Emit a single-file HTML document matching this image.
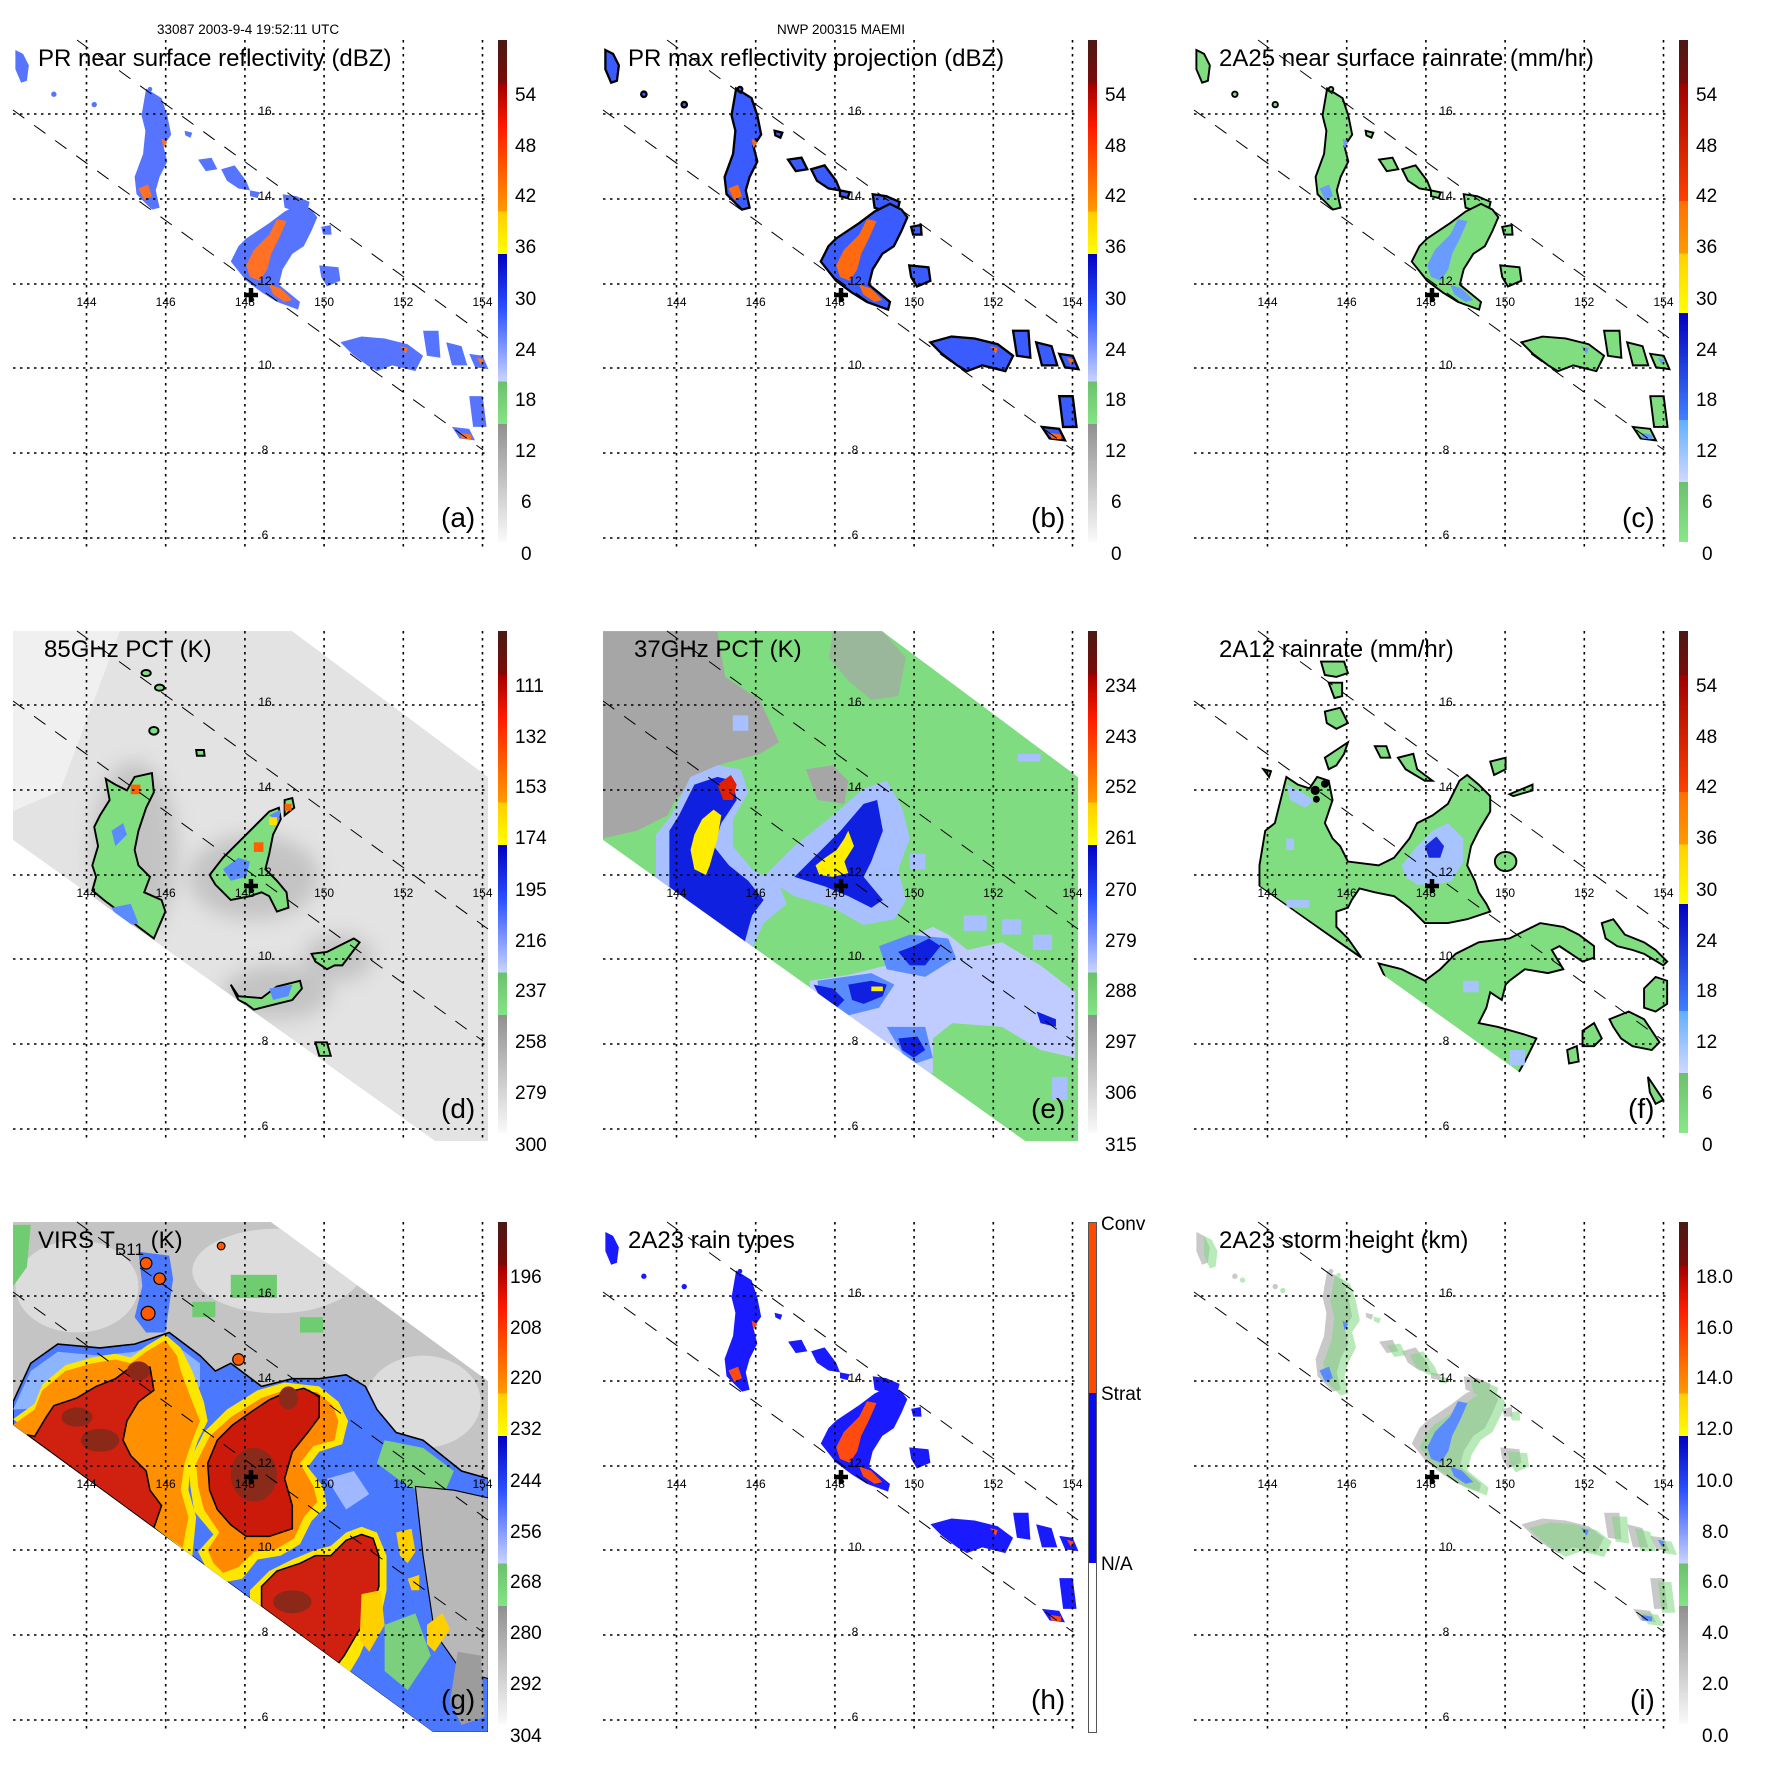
<!DOCTYPE html>
<html><head><meta charset="utf-8"><style>
html,body{margin:0;padding:0;background:#fff}
svg{display:block}
text{font-family:"Liberation Sans",Arial,sans-serif;fill:#000}
.t{font-size:24px}.pl{font-size:28px}.cb{font-size:19px}.tk{font-size:12px}.hd{font-size:13.5px}
</style></head><body>
<svg width="1771" height="1771" viewBox="0 0 1771 1771" xmlns="http://www.w3.org/2000/svg">
<defs>
<linearGradient id="gA" x1="0" y1="0" x2="0" y2="1">
<stop offset="0" stop-color="#4a1a14"/><stop offset=".086" stop-color="#7a0c0a"/>
<stop offset=".086" stop-color="#a00000"/><stop offset=".173" stop-color="#ff1a00"/>
<stop offset=".257" stop-color="#ff5a00"/><stop offset=".342" stop-color="#ff9a00"/>
<stop offset=".342" stop-color="#ffcc00"/><stop offset=".426" stop-color="#ffff00"/>
<stop offset=".426" stop-color="#0000c0"/><stop offset=".534" stop-color="#2a50ff"/>
<stop offset=".68" stop-color="#c8d4ff"/><stop offset=".68" stop-color="#6cc06c"/>
<stop offset=".765" stop-color="#84e484"/><stop offset=".765" stop-color="#909090"/>
<stop offset="1" stop-color="#fafafa"/></linearGradient>
<linearGradient id="gC" x1="0" y1="0" x2="0" y2="1">
<stop offset="0" stop-color="#4a1a14"/><stop offset=".088" stop-color="#7a0c0a"/>
<stop offset=".088" stop-color="#a00000"/><stop offset=".321" stop-color="#ff4000"/>
<stop offset=".321" stop-color="#ff7000"/><stop offset=".425" stop-color="#ff9a00"/>
<stop offset=".425" stop-color="#ffd000"/><stop offset=".544" stop-color="#ffff00"/>
<stop offset=".544" stop-color="#0000c0"/><stop offset=".757" stop-color="#4080ff"/>
<stop offset=".757" stop-color="#60b0ff"/><stop offset=".88" stop-color="#d0d8ff"/>
<stop offset=".88" stop-color="#6cc06c"/><stop offset="1" stop-color="#88e888"/></linearGradient>
<clipPath id="tmi" clipPathUnits="userSpaceOnUse"><polygon points="13,40 292,40 488,186 488,550 435,550 13,249"/></clipPath>
<clipPath id="virs" clipPathUnits="userSpaceOnUse"><polygon points="13,40 271,40 488,199 488,550 433,550 13,243"/></clipPath>
<filter id="bl" x="-50%" y="-50%" width="200%" height="200%"><feGaussianBlur stdDeviation="25"/></filter>
<pattern id="spk" width="9" height="9" patternUnits="userSpaceOnUse">
<rect width="9" height="9" fill="#fff"/><rect x="0" y="0" width="3" height="3" fill="#000"/><rect x="5" y="4" width="3" height="3" fill="#000"/><rect x="2" y="7" width="2" height="2" fill="#000"/></pattern>
<mask id="sm" maskUnits="userSpaceOnUse" x="0" y="0" width="1600" height="1600"><rect width="1600" height="1600" fill="url(#spk)"/></mask>
<g id="grid" fill="none" stroke="#000" stroke-width="1.6" stroke-dasharray="2.5 4.5">
<path d="M86.5 40V550M165.7 40V550M244.9 40V550M324.1 40V550M403.3 40V550M482.5 40V550"/>
<path d="M13 114H488M13 199H488M13 284H488M13 368H488M13 453H488M13 538H488"/>
</g>
<g id="swath" fill="none" stroke="#000" stroke-width="1" stroke-dasharray="14 12">
<path d="M77 40L488 338M13 110L483 450"/></g>
<path id="cross" d="M251 288v14M244 295h14" stroke="#000" stroke-width="4.5" fill="none"/>
<g id="prshape">
<polygon points="380,230 420,255 435,300 445,350 425,380 435,420 415,460 405,495 415,540 395,545 355,505 350,460 372,400 378,340 368,300"/>
<polygon points="515,415 550,410 565,440 535,445"/>
<polygon points="575,440 610,430 640,470 650,495 620,490 590,470"/>
<polygon points="650,495 675,500 670,515 650,510"/>
<polygon points="735,505 770,510 805,525 800,545 770,550 740,540"/>
<polygon points="600,680 620,640 640,620 700,580 740,550 780,530 810,545 825,565 810,600 790,640 760,660 735,700 725,740 780,785 775,805 720,785 680,760 640,730"/>
<polygon points="830,690 880,695 885,730 850,745 835,720"/>
<polygon points="835,590 860,585 862,610 840,610"/>
<polygon points="885,890 940,875 1000,880 1060,895 1100,925 1080,965 1020,950 980,965 955,950 915,920"/>
<polygon points="1100,860 1140,860 1145,930 1110,925"/>
<polygon points="1160,890 1200,900 1215,950 1175,950"/>
<polygon points="1220,920 1255,925 1270,960 1235,955"/>
<polygon points="1220,1030 1255,1030 1265,1110 1230,1110"/>
<polygon points="1175,1110 1220,1115 1235,1145 1195,1140"/>
<polygon points="40,130 60,140 75,170 70,210 55,215 40,180"/>
<polygon points="480,340 500,345 495,358 482,352"/>
<circle cx="140" cy="245" r="7"/><circle cx="245" cy="272" r="7"/><circle cx="390" cy="232" r="6"/>
</g>
<g id="prcore">
<polygon points="640,690 660,650 700,610 720,570 745,575 725,620 705,660 695,700 675,730 650,720"/>
<polygon points="360,490 385,480 395,510 375,520"/>
<polygon points="1195,1125 1225,1130 1225,1142 1200,1140"/>
<polygon points="700,740 730,750 760,780 740,785 710,765"/>
<polygon points="420,360 435,370 425,385"/>
<polygon points="1040,900 1060,905 1055,920"/>
<polygon points="1240,930 1258,935 1250,948"/>
</g>
</defs>
<rect width="1771" height="1771" fill="#fff"/>
<text class="hd" x="248" y="34" text-anchor="middle">33087 2003-9-4 19:52:11 UTC</text>
<text class="hd" x="841" y="34" text-anchor="middle">NWP 200315 MAEMI</text>

<!-- ===== (a) ===== -->
<g transform="translate(0,0)">
<g transform="scale(.38462)" opacity=".85">
<use href="#prshape" fill="#3a5cff"/>
<use href="#prcore" fill="#ff5a00"/>
</g>
<use href="#grid"/><use href="#swath"/><use href="#cross"/>
<text class="t" x="38" y="66">PR near surface reflectivity (dBZ)</text>
<rect x="498" y="40" width="9" height="502" fill="url(#gA)"/>
<text class="cb" x="515" y="101">54</text><text class="cb" x="515" y="152">48</text><text class="cb" x="515" y="202">42</text><text class="cb" x="515" y="253">36</text><text class="cb" x="515" y="305">30</text><text class="cb" x="515" y="356">24</text><text class="cb" x="515" y="406">18</text><text class="cb" x="515" y="457">12</text><text class="cb" x="521" y="508">6</text><text class="cb" x="521" y="560">0</text>
<text class="pl" x="441" y="527">(a)</text>
</g>

<!-- ===== (b) ===== -->
<g transform="translate(590,0)">
<g transform="scale(.38462)">
<use href="#prshape" fill="#3a5cff" stroke="#000" stroke-width="6"/>
<use href="#prcore" fill="#ff6a10"/>
</g>
<use href="#grid"/><use href="#swath"/><use href="#cross"/>
<text class="t" x="38" y="66">PR max reflectivity projection (dBZ)</text>
<rect x="498" y="40" width="9" height="502" fill="url(#gA)"/>
<text class="cb" x="515" y="101">54</text><text class="cb" x="515" y="152">48</text><text class="cb" x="515" y="202">42</text><text class="cb" x="515" y="253">36</text><text class="cb" x="515" y="305">30</text><text class="cb" x="515" y="356">24</text><text class="cb" x="515" y="406">18</text><text class="cb" x="515" y="457">12</text><text class="cb" x="521" y="508">6</text><text class="cb" x="521" y="560">0</text>
<text class="pl" x="441" y="527">(b)</text>
</g>

<!-- ===== (c) ===== -->
<g transform="translate(1181,0)">
<g transform="scale(.38462)">
<use href="#prshape" fill="#80dd80" stroke="#000" stroke-width="5"/>
<use href="#prcore" fill="#6a9cff"/>
</g>
<use href="#grid"/><use href="#swath"/><use href="#cross"/>
<text class="t" x="38" y="66">2A25 near surface rainrate (mm/hr)</text>
<rect x="498" y="40" width="9" height="502" fill="url(#gC)"/>
<text class="cb" x="515" y="101">54</text><text class="cb" x="515" y="152">48</text><text class="cb" x="515" y="202">42</text><text class="cb" x="515" y="253">36</text><text class="cb" x="515" y="305">30</text><text class="cb" x="515" y="356">24</text><text class="cb" x="515" y="406">18</text><text class="cb" x="515" y="457">12</text><text class="cb" x="521" y="508">6</text><text class="cb" x="521" y="560">0</text>
<text class="pl" x="441" y="527">(c)</text>
</g>

<!-- ===== (d) ===== -->
<g transform="translate(0,591)">
<g clip-path="url(#tmi)">
<polygon points="13,40 292,40 488,186 488,550 435,550 13,249" fill="#e3e3e3"/>
<polygon points="13,40 120,40 60,200 13,220" fill="#f0f0f0"/>
<g transform="translate(0,9) scale(.38462)">
<g filter="url(#bl)" fill="#8a8a8a" opacity=".35">
<ellipse cx="350" cy="650" rx="110" ry="230"/><ellipse cx="660" cy="720" rx="170" ry="110"/>
<ellipse cx="720" cy="1020" rx="140" ry="70"/><ellipse cx="880" cy="930" rx="90" ry="60"/>
</g>
<g fill="#80dd80" stroke="#000" stroke-width="5">
<polygon points="275,465 300,480 330,495 350,460 395,450 400,500 380,540 360,600 350,650 360,690 390,720 375,760 420,780 430,810 400,880 360,850 310,810 270,780 240,755 250,720 240,690 255,640 245,590 260,560 285,520"/>
<polygon points="545,715 580,670 620,630 660,590 700,550 725,540 730,570 710,610 700,660 690,700 720,730 745,760 750,800 720,810 700,770 680,760 650,770 600,780 580,760 560,740"/>
<polygon points="740,520 760,515 765,540 740,560"/>
<polygon points="600,1000 620,1030 680,1035 720,1005 780,990 785,1010 760,1040 720,1050 680,1060 660,1065 640,1050 620,1040"/>
<polygon points="810,920 850,915 880,900 920,880 935,890 920,910 890,950 870,950 850,960 820,940"/>
<polygon points="820,1150 850,1150 860,1185 830,1185"/>
<polygon points="510,390 530,390 532,405 512,405"/>
<ellipse cx="380" cy="190" rx="12" ry="8"/><ellipse cx="415" cy="228" rx="12" ry="8"/><ellipse cx="400" cy="340" rx="12" ry="10"/>
</g>
<g fill="#5a8cff">
<polygon points="580,700 620,670 650,680 640,720 600,730"/>
<polygon points="290,600 320,580 330,610 300,640"/>
<polygon points="700,1010 760,1000 750,1030 710,1040"/>
<polygon points="290,800 340,790 360,840 320,850"/>
<polygon points="700,560 730,545 725,575"/>
</g>
<g fill="#ff6000"><rect x="660" y="630" width="25" height="25"/><rect x="340" y="480" width="25" height="25"/><rect x="740" y="530" width="18" height="18"/><rect x="700" y="565" width="20" height="20" fill="#ffe000"/></g>
</g>
</g>
<use href="#grid"/><use href="#swath"/><use href="#cross"/>
<text class="t" x="44" y="66">85GHz PCT (K)</text>
<rect x="498" y="40" width="9" height="502" fill="url(#gA)"/>
<text class="cb" x="515" y="101">111</text><text class="cb" x="515" y="152">132</text><text class="cb" x="515" y="202">153</text><text class="cb" x="515" y="253">174</text><text class="cb" x="515" y="305">195</text><text class="cb" x="515" y="356">216</text><text class="cb" x="515" y="406">237</text><text class="cb" x="515" y="457">258</text><text class="cb" x="515" y="508">279</text><text class="cb" x="515" y="560">300</text>
<text class="pl" x="441" y="527">(d)</text>
</g>

<!-- ===== (e) ===== -->
<g transform="translate(590,591)">
<g clip-path="url(#tmi)">
<polygon points="13,40 292,40 488,186 488,550 435,550 13,249" fill="#80dc80"/>
<g transform="translate(-11,9) scale(.38462)">
<polygon points="62,82 360,82 380,200 470,260 520,370 470,400 430,410 360,430 300,470 250,520 230,560 150,600 62,620" fill="#a6a6a6"/>
<polygon points="590,440 660,430 700,470 690,530 620,520" fill="#a6a6a6"/>
<polygon points="660,82 790,82 850,150 830,250 760,260 700,210 650,150" fill="#a6a6a6" opacity=".7"/>
<polygon points="200,610 240,560 290,460 360,430 420,440 440,500 400,570 400,640 450,700 520,740 540,790 480,840 450,906 200,722" fill="#a8c0ff"/>
<polygon points="235,600 260,560 300,480 360,460 400,470 410,520 370,580 350,640 390,690 440,730 480,780 450,820 430,892 235,746" fill="#1020e0"/>
<polygon points="300,610 320,570 350,545 370,560 360,620 340,690 330,715 300,700 290,650" fill="#ffee00"/>
<polygon points="360,480 395,455 410,480 400,520 375,520" fill="#e02000"/>
<polygon points="480,720 560,640 660,560 740,490 800,470 840,540 860,620 830,700 850,780 820,830 740,845 660,800 560,770" fill="#a8c0ff"/>
<polygon points="560,720 620,660 680,600 740,530 775,520 790,600 760,680 740,720 790,780 760,800 700,770 640,745" fill="#1020e0"/>
<polygon points="615,690 640,670 670,650 690,620 700,600 715,640 690,680 700,710 660,720 625,715" fill="#ffee00"/>
<polygon points="600,990 700,975 800,950 850,880 920,850 960,870 1010,910 1100,890 1200,950 1290,1020 1290,1190 1200,1170 1100,1110 970,1100 920,1140 920,1230 880,1224 640,1047 600,1017" fill="#c0ccff"/>
<g fill="#5a8cff">
<polygon points="780,900 860,870 960,880 980,930 900,980 800,960"/>
<polygon points="620,990 760,970 820,1000 780,1060 700,1080 630,1050"/>
<polygon points="800,1110 900,1110 920,1190 860,1210"/>
</g>
<g fill="#1020e0">
<polygon points="830,915 870,900 910,880 940,900 900,950 860,950"/>
<polygon points="700,1000 760,990 800,1000 790,1030 740,1050 710,1040"/>
<polygon points="610,1000 660,1010 690,1040 670,1060 630,1040"/>
<polygon points="830,1140 880,1135 900,1170 870,1190 840,1170"/>
<polygon points="1190,1070 1240,1090 1240,1110 1200,1100"/>
</g>
<g fill="#a8c0ff">
<rect x="1000" y="820" width="60" height="40"/><rect x="1100" y="830" width="50" height="40"/><rect x="1180" y="870" width="50" height="40"/><rect x="860" y="660" width="40" height="40"/><rect x="1230" y="1240" width="40" height="60"/><rect x="400" y="300" width="40" height="40"/><rect x="1140" y="400" width="60" height="20"/>
</g>
<rect x="760" y="1005" width="30" height="12" fill="#ffee00"/>
</g>
</g>
<use href="#grid"/><use href="#swath"/><use href="#cross"/>
<text class="t" x="44" y="66">37GHz PCT (K)</text>
<rect x="498" y="40" width="9" height="502" fill="url(#gA)"/>
<text class="cb" x="515" y="101">234</text><text class="cb" x="515" y="152">243</text><text class="cb" x="515" y="202">252</text><text class="cb" x="515" y="253">261</text><text class="cb" x="515" y="305">270</text><text class="cb" x="515" y="356">279</text><text class="cb" x="515" y="406">288</text><text class="cb" x="515" y="457">297</text><text class="cb" x="515" y="508">306</text><text class="cb" x="515" y="560">315</text>
<text class="pl" x="441" y="527">(e)</text>
</g>

<!-- ===== (f) ===== -->
<g transform="translate(1181,591)">
<g clip-path="url(#tmi)">
<g transform="translate(-10,9) scale(.38462)">
<g fill="#80dd80" stroke="#000" stroke-width="5">
<polygon points="230,690 245,600 270,580 300,460 330,480 360,490 380,460 410,470 420,520 400,580 420,620 440,640 460,680 540,690 580,670 620,620 640,580 680,560 720,530 750,470 770,455 800,480 830,510 830,550 800,600 780,640 770,690 790,730 800,760 820,790 830,810 770,830 720,840 660,840 620,800 580,770 530,760 490,750 470,780 460,800 430,810 430,850 460,880 495,930 230,745"/>
<polygon points="540,945 600,960 660,990 700,960 740,920 800,890 880,880 920,860 960,840 1020,850 1060,870 1100,900 1100,930 1070,940 1040,920 1010,900 990,910 1020,960 980,970 920,960 880,990 870,1000 860,1040 830,1020 820,1060 800,1100 850,1110 920,1130 950,1140 920,1200 900,1235 700,1091 560,988"/>
<polygon points="390,160 450,160 460,190 430,200 400,195"/>
<polygon points="410,215 445,215 445,250 425,255"/>
<polygon points="400,290 440,280 460,320 430,335 405,320"/>
<polygon points="400,410 430,390 460,370 450,400 430,430 410,440"/>
<polygon points="530,380 560,380 570,410 545,410"/>
<polygon points="590,410 630,400 640,440 680,470 660,470 610,440"/>
<ellipse cx="870" cy="680" rx="28" ry="25"/>
<polygon points="1120,840 1150,830 1180,870 1230,890 1260,910 1290,940 1280,950 1230,920 1200,910 1160,900 1130,880"/>
<polygon points="1230,1010 1260,980 1290,990 1290,1050 1260,1070 1230,1060"/>
<polygon points="1140,1090 1190,1070 1230,1090 1250,1120 1270,1150 1250,1170 1200,1160 1170,1140 1150,1110"/>
<polygon points="1070,1120 1100,1100 1120,1140 1100,1160 1070,1160"/>
<polygon points="1030,1170 1055,1160 1060,1200 1035,1205"/>
<polygon points="1240,1240 1260,1270 1280,1300 1260,1310 1245,1280"/>
<polygon points="830,420 870,410 870,440 840,455"/>
<polygon points="880,505 940,480 940,495 890,510"/>
<polygon points="240,440 260,445 255,460"/>
</g>
<polygon points="600,690 640,640 680,600 720,580 760,620 760,680 730,730 690,740 640,740 610,720" fill="#a8c4ff"/>
<polygon points="660,640 690,615 710,640 700,670 670,670" fill="#1a2ae0"/>
<polygon points="300,480 340,500 370,520 350,540 310,520" fill="#a8c4ff"/>
<g fill="#a8c4ff"><rect x="300" y="780" width="60" height="20"/><rect x="760" y="990" width="40" height="30"/><rect x="880" y="1170" width="40" height="40"/><rect x="300" y="620" width="20" height="30"/></g>
<g fill="#000"><circle cx="375" cy="495" r="12"/><circle cx="400" cy="478" r="10"/><circle cx="378" cy="518" r="9"/></g>
</g>
</g>
<use href="#grid"/><use href="#swath"/><use href="#cross"/>
<text class="t" x="38" y="66">2A12 rainrate (mm/hr)</text>
<rect x="498" y="40" width="9" height="502" fill="url(#gC)"/>
<text class="cb" x="515" y="101">54</text><text class="cb" x="515" y="152">48</text><text class="cb" x="515" y="202">42</text><text class="cb" x="515" y="253">36</text><text class="cb" x="515" y="305">30</text><text class="cb" x="515" y="356">24</text><text class="cb" x="515" y="406">18</text><text class="cb" x="515" y="457">12</text><text class="cb" x="521" y="508">6</text><text class="cb" x="521" y="560">0</text>
<text class="pl" x="447" y="527">(f)</text>
</g>

<!-- ===== (g) ===== -->
<g transform="translate(0,1182)">
<g clip-path="url(#virs)">
<polygon points="13,40 271,40 488,199 488,550 433,550 13,243" fill="#c4c4c4"/>
<g transform="translate(0,-11) scale(.38462)">
<g fill="#dcdcdc"><ellipse cx="200" cy="300" rx="160" ry="120"/><ellipse cx="720" cy="260" rx="220" ry="110"/><ellipse cx="1100" cy="600" rx="150" ry="120"/></g>
<polygon points="34,140 80,140 70,250 34,300" fill="#70cc70"/>
<polygon points="34,600 80,500 150,450 260,460 350,450 440,420 520,480 560,520 600,500 680,560 760,540 830,540 900,530 950,560 980,620 1030,680 1100,700 1150,740 1200,780 1270,800 1270,1460 1125,1460 34,660" fill="#4a78ff" stroke="#000" stroke-width="4"/>
<polygon points="34,620 80,520 150,470 260,480 350,470 440,440 520,500 520,560 470,600" fill="#8cb4ff"/>
<polygon points="1000,700 1100,720 1180,780 1150,850 1060,820 980,760" fill="#7ccf7c"/>
<polygon points="1080,820 1180,830 1270,850 1270,1320 1200,1300 1130,1200 1100,1000" fill="#b8b8b8" stroke="#000" stroke-width="3"/>
<polygon points="1190,1250 1250,1260 1260,1420 1200,1440 1170,1380" fill="#9c9c9c"/>
<polygon points="1000,1180 1080,1150 1120,1260 1060,1350 1000,1300" fill="#7ccf7c"/>
<polygon points="850,800 920,780 960,840 900,880" fill="#a0b8ff"/>
<polygon points="34,645 90,605 110,555 170,505 240,485 300,475 340,485 380,455 430,425 470,460 500,520 530,600 540,650 515,700 495,760 490,830 510,900 500,1002" fill="#ffe600"/>
<polygon points="34,660 90,620 110,570 170,520 240,500 300,490 340,500 380,470 430,440 460,480 470,520 500,600 520,650 500,700 480,760 470,830 490,900 475,980" fill="#ff9000"/>
<polygon points="70,686 90,690 120,640 140,610 200,590 250,560 300,540 340,510 390,510 400,570 360,600 330,650 320,700 340,740 380,780 390,830 420,870 400,928" fill="#d02010" stroke="#000" stroke-width="4"/>
<g fill="#8c2818"><ellipse cx="260" cy="700" rx="50" ry="30"/><ellipse cx="360" cy="520" rx="30" ry="25"/><ellipse cx="200" cy="640" rx="40" ry="25"/></g>
<polygon points="490,760 530,680 590,620 670,570 740,550 830,560 880,600 905,650 890,710 830,730 800,770 840,820 850,870 810,910 780,970 730,1000 670,1010 630,1060 580,1070 540,1040 515,990 555,945 505,885 495,820" fill="#ffe600"/>
<polygon points="510,760 545,690 600,640 680,590 740,570 825,575 865,610 880,650 870,700 815,715 780,760 815,820 825,860 790,900 765,955 715,985 660,990 620,1030 580,1045 555,1020 540,985 570,940 530,880 515,820" fill="#ff8a00"/>
<polygon points="540,760 565,700 605,660 655,625 700,595 745,575 790,565 830,585 830,640 800,680 760,730 740,800 760,870 760,930 700,950 640,950 600,920 565,880 545,830" fill="#cc1a0a" stroke="#000" stroke-width="4"/>
<ellipse cx="660" cy="790" rx="60" ry="70" fill="#8a2a1a"/><ellipse cx="750" cy="590" rx="25" ry="30" fill="#8a2a1a"/>
<polygon points="650,1111 650,1090 700,1040 760,1010 820,985 860,975 900,940 940,925 980,940 1005,1000 1005,1090 990,1160 960,1200 935,1260 910,1302" fill="#ffe600"/>
<polygon points="680,1133 680,1080 720,1040 780,1020 820,1000 860,1000 900,960 940,945 970,955 985,1000 985,1080 965,1150 930,1200 895,1260 880,1280" fill="#d02010" stroke="#000" stroke-width="4"/>
<ellipse cx="760" cy="1120" rx="50" ry="30" fill="#8c2818"/>
<g fill="#ffd000"><polygon points="940,1100 990,1090 1000,1180 960,1250 935,1220"/><polygon points="1030,940 1070,930 1080,990 1060,1020 1040,1000"/><polygon points="1110,1180 1150,1150 1170,1190 1130,1250 1110,1230"/><polygon points="1060,1060 1090,1050 1090,1090 1070,1090"/></g>
<polygon points="360,210 440,220 450,280 430,420 380,420 350,380 370,300" fill="#4a78ff"/>
<g fill="#ff5a00" stroke="#000" stroke-width="3"><circle cx="380" cy="240" r="15"/><circle cx="415" cy="280" r="15"/><circle cx="385" cy="370" r="18"/><circle cx="620" cy="490" r="15"/><circle cx="575" cy="195" r="10"/></g>
<g fill="#70cc70"><rect x="600" y="270" width="120" height="60"/><rect x="780" y="380" width="60" height="40"/><rect x="500" y="340" width="60" height="40"/></g>
</g>
</g>
<use href="#grid"/><use href="#swath"/><use href="#cross"/>
<text class="t" x="38" y="66">VIRS T<tspan font-size="17" dy="7">B11</tspan><tspan dy="-7"> (K)</tspan></text>
<rect x="498" y="40" width="9" height="502" fill="url(#gA)"/>
<text class="cb" x="510" y="101">196</text><text class="cb" x="510" y="152">208</text><text class="cb" x="510" y="202">220</text><text class="cb" x="510" y="253">232</text><text class="cb" x="510" y="305">244</text><text class="cb" x="510" y="356">256</text><text class="cb" x="510" y="406">268</text><text class="cb" x="510" y="457">280</text><text class="cb" x="510" y="508">292</text><text class="cb" x="510" y="560">304</text>
<text class="pl" x="441" y="527">(g)</text>
</g>

<!-- ===== (h) ===== -->
<g transform="translate(590,1182)">
<g transform="scale(.38462)">
<use href="#prshape" fill="#1a1aff"/>
<use href="#prcore" fill="#ff4a10"/>
</g>
<use href="#grid"/><use href="#swath"/><use href="#cross"/>
<text class="t" x="38" y="66">2A23 rain types</text>
<rect x="498" y="40" width="9" height="171" fill="#ff4a00"/>
<rect x="498" y="211" width="9" height="170" fill="#0a0af0"/>
<rect x="498.5" y="40.5" width="8" height="510" fill="none" stroke="#555" stroke-width="1"/>
<text class="cb" x="511" y="48" font-size="20">Conv</text>
<text class="cb" x="511" y="218" font-size="20">Strat</text>
<text class="cb" x="511" y="388" font-size="20">N/A</text>
<text class="pl" x="441" y="527">(h)</text>
</g>

<!-- ===== (i) ===== -->
<g transform="translate(1181,1182)">
<g transform="scale(.38462)">
<use href="#prshape" fill="#9c9c9c" opacity=".55"/>
<use href="#prshape" fill="#80d880" transform="translate(20,10)" opacity=".55"/>
<use href="#prcore" fill="#5a8cff"/>
</g>
<use href="#grid"/><use href="#swath"/><use href="#cross"/>
<text class="t" x="38" y="66">2A23 storm height (km)</text>
<rect x="498" y="40" width="9" height="502" fill="url(#gA)"/>
<text class="cb" x="515" y="101">18.0</text><text class="cb" x="515" y="152">16.0</text><text class="cb" x="515" y="202">14.0</text><text class="cb" x="515" y="253">12.0</text><text class="cb" x="515" y="305">10.0</text><text class="cb" x="521" y="356">8.0</text><text class="cb" x="521" y="406">6.0</text><text class="cb" x="521" y="457">4.0</text><text class="cb" x="521" y="508">2.0</text><text class="cb" x="521" y="560">0.0</text>
<text class="pl" x="449" y="527">(i)</text>
</g>

<!-- tick labels per panel -->
<g class="tk" text-anchor="middle">
<text class="tk" x="86.5" y="306">144</text><text class="tk" x="165.7" y="306">146</text><text class="tk" x="244.9" y="306">148</text><text class="tk" x="324.1" y="306">150</text><text class="tk" x="403.3" y="306">152</text><text class="tk" x="482.5" y="306">154</text>
<text class="tk" x="265" y="115">16</text><text class="tk" x="265" y="200">14</text><text class="tk" x="265" y="285">12</text><text class="tk" x="265" y="369">10</text><text class="tk" x="265" y="454">8</text><text class="tk" x="265" y="539">6</text>
<text class="tk" x="676.5" y="306">144</text><text class="tk" x="755.7" y="306">146</text><text class="tk" x="834.9" y="306">148</text><text class="tk" x="914.1" y="306">150</text><text class="tk" x="993.3" y="306">152</text><text class="tk" x="1072.5" y="306">154</text>
<text class="tk" x="855" y="115">16</text><text class="tk" x="855" y="200">14</text><text class="tk" x="855" y="285">12</text><text class="tk" x="855" y="369">10</text><text class="tk" x="855" y="454">8</text><text class="tk" x="855" y="539">6</text>
<text class="tk" x="1267.5" y="306">144</text><text class="tk" x="1346.7" y="306">146</text><text class="tk" x="1425.9" y="306">148</text><text class="tk" x="1505.1" y="306">150</text><text class="tk" x="1584.3" y="306">152</text><text class="tk" x="1663.5" y="306">154</text>
<text class="tk" x="1446" y="115">16</text><text class="tk" x="1446" y="200">14</text><text class="tk" x="1446" y="285">12</text><text class="tk" x="1446" y="369">10</text><text class="tk" x="1446" y="454">8</text><text class="tk" x="1446" y="539">6</text>

<text class="tk" x="86.5" y="897">144</text><text class="tk" x="165.7" y="897">146</text><text class="tk" x="244.9" y="897">148</text><text class="tk" x="324.1" y="897">150</text><text class="tk" x="403.3" y="897">152</text><text class="tk" x="482.5" y="897">154</text>
<text class="tk" x="265" y="706">16</text><text class="tk" x="265" y="791">14</text><text class="tk" x="265" y="876">12</text><text class="tk" x="265" y="960">10</text><text class="tk" x="265" y="1045">8</text><text class="tk" x="265" y="1130">6</text>
<text class="tk" x="676.5" y="897">144</text><text class="tk" x="755.7" y="897">146</text><text class="tk" x="834.9" y="897">148</text><text class="tk" x="914.1" y="897">150</text><text class="tk" x="993.3" y="897">152</text><text class="tk" x="1072.5" y="897">154</text>
<text class="tk" x="855" y="706">16</text><text class="tk" x="855" y="791">14</text><text class="tk" x="855" y="876">12</text><text class="tk" x="855" y="960">10</text><text class="tk" x="855" y="1045">8</text><text class="tk" x="855" y="1130">6</text>
<text class="tk" x="1267.5" y="897">144</text><text class="tk" x="1346.7" y="897">146</text><text class="tk" x="1425.9" y="897">148</text><text class="tk" x="1505.1" y="897">150</text><text class="tk" x="1584.3" y="897">152</text><text class="tk" x="1663.5" y="897">154</text>
<text class="tk" x="1446" y="706">16</text><text class="tk" x="1446" y="791">14</text><text class="tk" x="1446" y="876">12</text><text class="tk" x="1446" y="960">10</text><text class="tk" x="1446" y="1045">8</text><text class="tk" x="1446" y="1130">6</text>

<text class="tk" x="86.5" y="1488">144</text><text class="tk" x="165.7" y="1488">146</text><text class="tk" x="244.9" y="1488">148</text><text class="tk" x="324.1" y="1488">150</text><text class="tk" x="403.3" y="1488">152</text><text class="tk" x="482.5" y="1488">154</text>
<text class="tk" x="265" y="1297">16</text><text class="tk" x="265" y="1382">14</text><text class="tk" x="265" y="1467">12</text><text class="tk" x="265" y="1551">10</text><text class="tk" x="265" y="1636">8</text><text class="tk" x="265" y="1721">6</text>
<text class="tk" x="676.5" y="1488">144</text><text class="tk" x="755.7" y="1488">146</text><text class="tk" x="834.9" y="1488">148</text><text class="tk" x="914.1" y="1488">150</text><text class="tk" x="993.3" y="1488">152</text><text class="tk" x="1072.5" y="1488">154</text>
<text class="tk" x="855" y="1297">16</text><text class="tk" x="855" y="1382">14</text><text class="tk" x="855" y="1467">12</text><text class="tk" x="855" y="1551">10</text><text class="tk" x="855" y="1636">8</text><text class="tk" x="855" y="1721">6</text>
<text class="tk" x="1267.5" y="1488">144</text><text class="tk" x="1346.7" y="1488">146</text><text class="tk" x="1425.9" y="1488">148</text><text class="tk" x="1505.1" y="1488">150</text><text class="tk" x="1584.3" y="1488">152</text><text class="tk" x="1663.5" y="1488">154</text>
<text class="tk" x="1446" y="1297">16</text><text class="tk" x="1446" y="1382">14</text><text class="tk" x="1446" y="1467">12</text><text class="tk" x="1446" y="1551">10</text><text class="tk" x="1446" y="1636">8</text><text class="tk" x="1446" y="1721">6</text>
</g>
</svg>
</body></html>
